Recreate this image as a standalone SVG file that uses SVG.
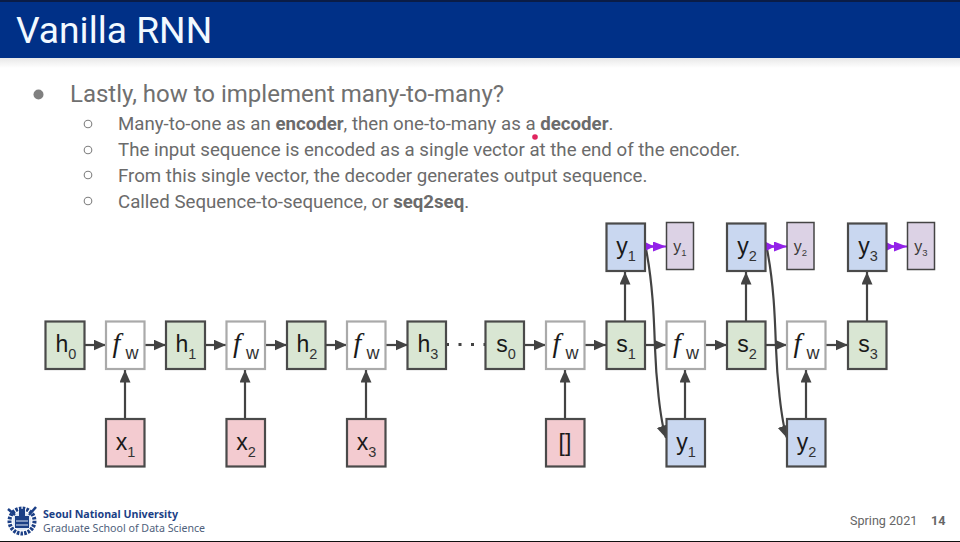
<svg xmlns="http://www.w3.org/2000/svg" width="960" height="542" viewBox="0 0 960 542">
<defs>
<linearGradient id="shade" x1="0" y1="0" x2="0" y2="1"><stop offset="0" stop-color="#e8e8e8"/><stop offset="1" stop-color="#ffffff"/></linearGradient>
<marker id="ah" markerUnits="userSpaceOnUse" markerWidth="14" markerHeight="12" refX="12.5" refY="5.500" orient="auto"><path d="M0,0L12.500,5.500L0,11Z" fill="#434343"/></marker>
<marker id="pa" markerUnits="userSpaceOnUse" markerWidth="14" markerHeight="11" refX="13" refY="5" orient="auto"><path d="M0,0L13,5L0,10Z" fill="#9322e8"/></marker>
<marker id="pb" markerUnits="userSpaceOnUse" markerWidth="11" markerHeight="11" refX="10" refY="5" orient="auto"><path d="M0,0L10,5L0,10Z" fill="#9322e8"/></marker>
</defs>
<style>
text{font-family:Roboto,"Liberation Sans",sans-serif}
.h rect{fill:#d9e6d3;stroke:#4a4a4a;stroke-width:2.2}
.f rect{fill:#fff;stroke:#aaaaaa;stroke-width:2.2}
.x rect{fill:#f3cbd0;stroke:#4a4a4a;stroke-width:2.2}
.y rect{fill:#c9d7f0;stroke:#4a4a4a;stroke-width:2.2}
.p rect{fill:#dcd2e5;stroke:#444;stroke-width:1.500}
.n text{font-family:"Liberation Sans",Arial,sans-serif;font-size:23px;fill:#1a1a1a;text-anchor:middle}
.n tspan.s{font-size:14.500px;fill:#333}
.n tspan.w{font-size:18px;fill:#333}
.p text{font-family:"Liberation Sans",Arial,sans-serif;font-size:16px;fill:#3a3a3a;text-anchor:middle}
.p tspan.s{font-size:9.500px}
.i{font-family:"Liberation Serif",serif;font-style:italic;font-size:28px}
#connectors line,#connectors path{stroke:#434343;stroke-width:2.2;fill:none}
#connectors .a{marker-end:url(#ah)}
#connectors .v{stroke:#9322e8;stroke-width:2;marker-end:url(#pa)}
#connectors .u{stroke:#9322e8;stroke-width:2;marker-end:url(#pb)}
.sub{font-size:18.660px;fill:#6b6b6b}
</style>
<rect width="960" height="542" fill="#fff"/>
<rect y="58" width="960" height="10" fill="url(#shade)"/>
<g id="header"><rect width="960" height="58" fill="#003087"/><rect width="960" height="2" fill="#0a1c46"/>
<text x="16" y="43" font-size="37.200" fill="#f2f9ff">Vanilla RNN</text></g>
<g id="bullets">
<circle cx="38.500" cy="94.500" r="5" fill="#808080"/>
<text x="70" y="102" font-size="24" fill="#707070">Lastly, how to implement many-to-many?</text>
<g fill="none" stroke="#808080" stroke-width="1.100"><circle cx="88" cy="124" r="3.800"/><circle cx="88" cy="150" r="3.800"/><circle cx="88" cy="175" r="3.800"/><circle cx="88" cy="201" r="3.800"/></g>
<text class="sub" x="118" y="130">Many-to-one as an <tspan font-weight="700">encoder</tspan>, then one-to-many as a <tspan font-weight="700">decoder</tspan>.</text>
<text class="sub" x="118" y="156">The input sequence is encoded as a single vector at the end of the encoder.</text>
<text class="sub" x="118" y="182">From this single vector, the decoder generates output sequence.</text>
<text class="sub" x="118" y="208">Called Sequence-to-sequence, or <tspan font-weight="700">seq2seq</tspan>.</text>
<circle cx="535" cy="137" r="2.800" fill="#e0245e"/>
</g>
<g id="connectors">
<line class="a" x1="84" y1="345" x2="106" y2="345"/><line class="a" x1="144" y1="345" x2="166" y2="345"/>
<line class="a" x1="205" y1="345" x2="226" y2="345"/><line class="a" x1="265" y1="345" x2="287" y2="345"/>
<line class="a" x1="325" y1="345" x2="347" y2="345"/><line class="a" x1="385" y1="345" x2="408" y2="345"/>
<line x1="446" y1="344.500" x2="486" y2="344.500" style="stroke-dasharray:3 9.500;stroke-width:3"/>
<line class="a" x1="524" y1="345" x2="546" y2="345"/><line class="a" x1="584" y1="345" x2="606" y2="345"/>
<line class="a" x1="645" y1="345" x2="666" y2="345"/><line class="a" x1="705" y1="345" x2="727" y2="345"/>
<line class="a" x1="765" y1="345" x2="787" y2="345"/><line class="a" x1="825" y1="345" x2="848" y2="345"/>
<line class="a" x1="125" y1="419" x2="125" y2="370"/><line class="a" x1="245" y1="419" x2="245" y2="370"/>
<line class="a" x1="366" y1="419" x2="366" y2="370"/><line class="a" x1="565" y1="419" x2="565" y2="370"/>
<line class="a" x1="685" y1="419" x2="685" y2="370"/><line class="a" x1="806" y1="419" x2="806" y2="370"/>
<line class="a" x1="625" y1="321" x2="625" y2="272"/><line class="a" x1="746" y1="321" x2="746" y2="272"/>
<line class="a" x1="867" y1="321" x2="867" y2="272"/>
<path class="a" d="M646,249C653,285 654,320 655,348S660,420 666,438"/>
<path class="a" d="M767,249C774,285 775,320 776,348S781,420 787,438"/>
<line class="u" x1="645" y1="246.500" x2="654" y2="246.500"/><line class="v" x1="650" y1="246.500" x2="666" y2="246.500"/>
<line class="u" x1="766" y1="246.500" x2="775" y2="246.500"/><line class="v" x1="771" y1="246.500" x2="787" y2="246.500"/>
<line class="u" x1="886" y1="246.500" x2="895" y2="246.500"/><line class="v" x1="891" y1="246.500" x2="907" y2="246.500"/>
</g>
<g id="h0" class="n h"><rect x="45.500" y="321.500" width="39" height="47.500"/><text x="66" y="352">h<tspan class="s" dy="7">0</tspan></text></g>
<g id="f1" class="n f"><rect x="106" y="321.500" width="38.500" height="47.500"/><text x="125.500" y="352"><tspan class="i">f</tspan><tspan class="w" dy="7"> w</tspan></text></g>
<g id="h1" class="n h"><rect x="166" y="321.500" width="39" height="47.500"/><text x="186" y="352">h<tspan class="s" dy="7">1</tspan></text></g>
<g id="f2" class="n f"><rect x="226.500" y="321.500" width="38.500" height="47.500"/><text x="246" y="352"><tspan class="i">f</tspan><tspan class="w" dy="7"> w</tspan></text></g>
<g id="h2" class="n h"><rect x="287" y="321.500" width="38.500" height="47.500"/><text x="307" y="352">h<tspan class="s" dy="7">2</tspan></text></g>
<g id="f3" class="n f"><rect x="347" y="321.500" width="38.500" height="47.500"/><text x="366.500" y="352"><tspan class="i">f</tspan><tspan class="w" dy="7"> w</tspan></text></g>
<g id="h3" class="n h"><rect x="407.500" y="321.500" width="38.500" height="47.500"/><text x="428" y="352">h<tspan class="s" dy="7">3</tspan></text></g>
<g id="s0" class="n h"><rect x="485.500" y="321.500" width="38.500" height="47.500"/><text x="506" y="352">s<tspan class="s" dy="7">0</tspan></text></g>
<g id="f4" class="n f"><rect x="546" y="321.500" width="38.500" height="47.500"/><text x="565.500" y="352"><tspan class="i">f</tspan><tspan class="w" dy="7"> w</tspan></text></g>
<g id="s1" class="n h"><rect x="606.500" y="321.500" width="38.500" height="47.500"/><text x="626" y="352">s<tspan class="s" dy="7">1</tspan></text></g>
<g id="f5" class="n f"><rect x="666.500" y="321.500" width="38.500" height="47.500"/><text x="686" y="352"><tspan class="i">f</tspan><tspan class="w" dy="7"> w</tspan></text></g>
<g id="s2" class="n h"><rect x="727" y="321.500" width="38.500" height="47.500"/><text x="747" y="352">s<tspan class="s" dy="7">2</tspan></text></g>
<g id="f6" class="n f"><rect x="787" y="321.500" width="38.500" height="47.500"/><text x="806.500" y="352"><tspan class="i">f</tspan><tspan class="w" dy="7"> w</tspan></text></g>
<g id="s3" class="n h"><rect x="848" y="321.500" width="38.500" height="47.500"/><text x="868" y="352">s<tspan class="s" dy="7">3</tspan></text></g>
<g id="x1" class="n x"><rect x="106" y="419" width="38.500" height="47.500"/><text x="125.500" y="450">x<tspan class="s" dy="7">1</tspan></text></g>
<g id="x2" class="n x"><rect x="226.500" y="419" width="38.500" height="47.500"/><text x="246" y="450">x<tspan class="s" dy="7">2</tspan></text></g>
<g id="x3" class="n x"><rect x="347" y="419" width="38.500" height="47.500"/><text x="366.500" y="450">x<tspan class="s" dy="7">3</tspan></text></g>
<g id="xe" class="n x"><rect x="546" y="419" width="38.500" height="47.500"/><text x="565" y="451">[]</text></g>
<g id="yi1" class="n y"><rect x="666.500" y="419" width="38.500" height="47.500"/><text x="686" y="450">y<tspan class="s" dy="7">1</tspan></text></g>
<g id="yi2" class="n y"><rect x="787" y="419" width="38.500" height="47.500"/><text x="806.500" y="450">y<tspan class="s" dy="7">2</tspan></text></g>
<g id="y1" class="n y"><rect x="606.500" y="223.500" width="38.500" height="47.500"/><text x="626" y="254">y<tspan class="s" dy="7">1</tspan></text></g>
<g id="y2" class="n y"><rect x="727" y="223.500" width="38.500" height="47.500"/><text x="747" y="254">y<tspan class="s" dy="7">2</tspan></text></g>
<g id="y3" class="n y"><rect x="848" y="223.500" width="38.500" height="47.500"/><text x="868" y="254">y<tspan class="s" dy="7">3</tspan></text></g>
<g id="p1" class="p"><rect x="666.500" y="222.500" width="27" height="47"/><text x="680" y="252">y<tspan class="s" dy="4">1</tspan></text></g>
<g id="p2" class="p"><rect x="787" y="222.500" width="27" height="47"/><text x="800.500" y="252">y<tspan class="s" dy="4">2</tspan></text></g>
<g id="p3" class="p"><rect x="907.500" y="222.500" width="27" height="47"/><text x="921" y="252">y<tspan class="s" dy="4">3</tspan></text></g>
<g id="logo">
<circle cx="22" cy="521" r="12.500" fill="none" stroke="#1b3f86" stroke-width="4" stroke-dasharray="2.500 1.200"/>
<circle cx="22" cy="521" r="9.500" fill="#dfe8f5"/>
<rect x="15" y="516" width="14" height="12" fill="#1b3f86"/>
<path d="M16,521h12M16,525h12" stroke="#dfe8f5" stroke-width="1"/>
<path d="M19,509h6v7h-6Z" fill="#1b3f86"/>
<path d="M29,515L36,507" stroke="#1b3f86" stroke-width="2.500"/>
<path d="M15,515L8,509" stroke="#1b3f86" stroke-width="2.500"/>
</g>
<text x="43" y="518" font-size="10.650" font-weight="700" fill="#1b3f86" style="font-family:'Noto Sans',sans-serif">Seoul National University</text>
<text x="43" y="532" font-size="10.650" fill="#4f5f7c" style="font-family:'Noto Sans',sans-serif">Graduate School of Data Science</text>
<text x="850" y="525" font-size="12.600" fill="#666">Spring 2021</text>
<text x="931" y="525" font-size="12.600" font-weight="700" fill="#666">14</text>
<rect y="541" width="960" height="1" fill="#111"/>
</svg>
